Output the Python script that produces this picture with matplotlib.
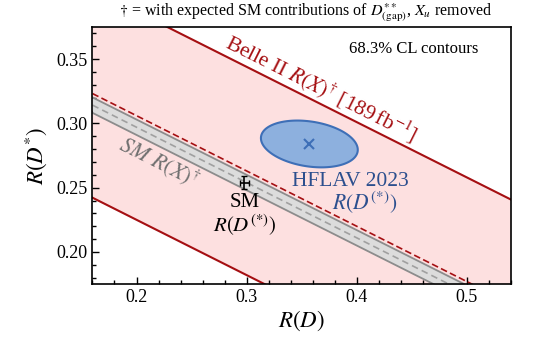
import numpy as np
import matplotlib.pyplot as plt
from matplotlib.ticker import MultipleLocator

plt.rcParams['font.family'] = ['Liberation Serif', 'DejaVu Serif']
plt.rcParams['mathtext.fontset'] = 'stix'

# An R(X) measurement is a straight band: R(D*) + rx_slope * R(D) = const
rx_slope = 0.43
belle_center = 0.392
belle_halfwidth = 0.081
sm_rx_center = 0.383
sm_rx_halfwidth = 0.006

# HFLAV 2023 average of R(D), R(D*)
hflav_rd, hflav_rds = 0.357, 0.284
hflav_sig_rd, hflav_sig_rds = 0.029, 0.012
hflav_rho = -0.25
dchi2_68 = 2.30  # 68.3% CL for two parameters

# SM prediction
sm_rd, sm_rd_err = 0.298, 0.004
sm_rds, sm_rds_err = 0.254, 0.005

xlim = (0.16, 0.54)
ylim = (0.175, 0.375)

red = '#a50f12'
pink = '#fde0e0'
blue_fill = '#8db0de'
blue_edge = '#3e6fb7'
blue_text = '#2c4f8e'
grey = '#8c8c8c'

fig = plt.figure(figsize=(5.44, 3.37), dpi=100)
ax = fig.add_axes([0.170, 0.157, 0.769, 0.763])
ax.set_xlim(*xlim)
ax.set_ylim(*ylim)

x = np.array(xlim)


def rx_line(c):
    return c - rx_slope * x


# Belle II R(X) band
ax.fill_between(x, rx_line(belle_center - belle_halfwidth),
                rx_line(belle_center + belle_halfwidth),
                color=pink, lw=0, zorder=1)
ax.plot(x, rx_line(belle_center - belle_halfwidth), color=red, lw=1.5, zorder=4)
ax.plot(x, rx_line(belle_center + belle_halfwidth), color=red, lw=1.5, zorder=4)
ax.plot(x, rx_line(belle_center), color=red, lw=1.2, ls=(0, (4, 2)), zorder=4)

# SM R(X) band
ax.fill_between(x, rx_line(sm_rx_center - sm_rx_halfwidth),
                rx_line(sm_rx_center + sm_rx_halfwidth),
                color='#dcdcdc', lw=0, zorder=2)
ax.plot(x, rx_line(sm_rx_center - sm_rx_halfwidth), color=grey, lw=1.3, zorder=3)
ax.plot(x, rx_line(sm_rx_center + sm_rx_halfwidth), color=grey, lw=1.3, zorder=3)
ax.plot(x, rx_line(sm_rx_center), color='#a0a0a0', lw=1.2, ls=(0, (4, 2.5)), zorder=3)

# HFLAV ellipse from the covariance matrix
cov = np.array([[hflav_sig_rd**2, hflav_rho * hflav_sig_rd * hflav_sig_rds],
                [hflav_rho * hflav_sig_rd * hflav_sig_rds, hflav_sig_rds**2]])
L = np.linalg.cholesky(cov)
t = np.linspace(0, 2 * np.pi, 300)
pts = np.sqrt(dchi2_68) * L @ np.vstack([np.cos(t), np.sin(t)])
ax.fill(hflav_rd + pts[0], hflav_rds + pts[1], facecolor=blue_fill,
        edgecolor=blue_edge, lw=1.5, zorder=5)
ax.plot(hflav_rd, hflav_rds, marker='x', color=blue_edge, ms=7, mew=1.5, zorder=6)

# SM point
ax.errorbar(sm_rd, sm_rds, xerr=sm_rd_err, yerr=sm_rds_err, fmt='none',
            ecolor='black', elinewidth=1.2, capsize=2, capthick=1.0, zorder=6)

# text along the R(X) bands
p = ax.transData.transform([(xlim[0], rx_line(0)[0]), (xlim[1], rx_line(0)[1])])
angle = np.degrees(np.arctan2(p[1, 1] - p[0, 1], p[1, 0] - p[0, 0]))

xb = 0.363
ax.text(xb, belle_center + belle_halfwidth - rx_slope * xb + 0.001,
        r'Belle II $R(X)^{\dagger}$ [189$\,$fb$^{-1}$]',
        color=red, fontsize=15.5, rotation=angle, rotation_mode='anchor',
        ha='center', va='bottom', zorder=7)
ax.text(0.2205, 0.2705, r'$SM\ R(X)^{\dagger}$', color='#707070', fontsize=16,
        rotation=angle, rotation_mode='anchor', ha='center', va='center', zorder=7)

ax.text(0.2985, 0.2385, 'SM', fontsize=15, ha='center', va='center', zorder=7)
ax.text(0.2985, 0.2205, r'$R(D^{(*)})$', fontsize=15, ha='center', va='center', zorder=7)
ax.text(0.394, 0.2549, 'HFLAV 2023', color=blue_text, fontsize=15.5,
        ha='center', va='center', zorder=7)
ax.text(0.4076, 0.2380, r'$R(D^{(*)})$', color=blue_text, fontsize=15.5,
        ha='center', va='center', zorder=7)

ax.text(0.922, 0.899, '68.3% CL contours', transform=ax.transAxes,
        fontsize=12, ha='right', va='baseline', zorder=7)

fig.text(0.5616, 0.962,
         r'$\dagger$ = with expected SM contributions of $D^{**}_{\rm (gap)}$, $X_u$ removed',
         fontsize=11.5, ha='center', va='center')

ax.set_xlabel(r'$R(D)$', fontsize=16.5, labelpad=2)
ax.set_ylabel(r'$R(D^{*})$', fontsize=16.5, labelpad=5)

ax.xaxis.set_major_locator(MultipleLocator(0.1))
ax.xaxis.set_minor_locator(MultipleLocator(0.02))
ax.yaxis.set_major_locator(MultipleLocator(0.05))
ax.yaxis.set_minor_locator(MultipleLocator(0.01))
ax.yaxis.set_major_formatter(plt.FormatStrFormatter('%.2f'))
ax.tick_params(which='both', direction='in', top=False, right=False,
               labelsize=13, width=1.0)
ax.tick_params(which='major', length=5)
ax.tick_params(which='minor', length=3)
for s in ax.spines.values():
    s.set_linewidth(1.2)
    s.set_zorder(8)

fig.savefig('out.png', dpi=100)
